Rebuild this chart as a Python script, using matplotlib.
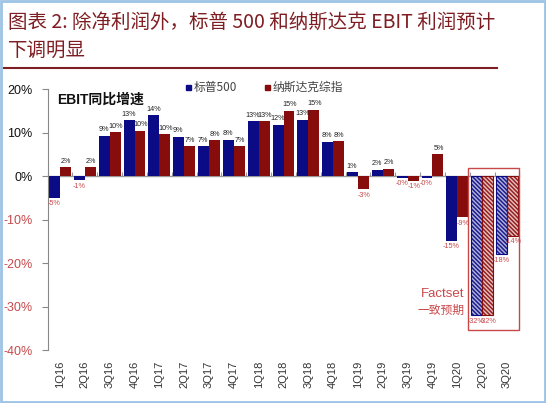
import numpy as np
import matplotlib.pyplot as plt
from matplotlib.patches import Rectangle

# EBIT 同比增速: 标普500 vs 纳斯达克综指
quarters = ['1Q16', '2Q16', '3Q16', '4Q16', '1Q17', '2Q17', '3Q17', '4Q17',
            '1Q18', '2Q18', '3Q18', '4Q18', '1Q19', '2Q19', '3Q19', '4Q19',
            '1Q20', '2Q20', '3Q20']
spx = [-5.0, -1.0, 9.3, 12.8, 14.0, 9.0, 6.8, 8.4, 12.6, 11.8, 13.0, 7.9,
       0.9, 1.5, -0.4, -0.4, -14.9, -32.0, -17.9]
ndq = [2.0, 2.0, 10.1, 10.4, 9.6, 6.8, 8.2, 6.8, 12.6, 15.0, 15.2, 8.0,
       -3.0, 1.6, -1.1, 5.0, -9.4, -32.0, -13.7]
n_forecast = 2  # 最后两个季度为 Factset 一致预期
yticks = [20, 10, 0, -10, -20, -30, -40]

BLUE = '#0b0b85'
RED = '#870c0c'
LRED = '#c8484a'
FONT = ['Liberation Sans', 'Noto Sans CJK SC', 'DejaVu Sans']
CJK = ['Noto Sans CJK SC', 'Liberation Sans', 'DejaVu Sans']
plt.rcParams['font.family'] = FONT
plt.rcParams['hatch.linewidth'] = 1.1

fig = plt.figure(figsize=(5.46, 4.03), dpi=100)
ax = fig.add_axes([0.0872, 0.1315, 0.8641, 0.6475])

x = np.arange(len(quarters))
w = 0.44
nf = len(quarters) - n_forecast

ax.bar(x[:nf] - w / 2, spx[:nf], w, color=BLUE, zorder=2)
ax.bar(x[:nf] + w / 2, ndq[:nf], w, color=RED, zorder=2)
# forecast bars: hatched
HATCH = '\\' * 8
ax.bar(x[nf:] - w / 2, spx[nf:], w, facecolor='#b4b4da', edgecolor='#1c1c8e',
       hatch=HATCH, linewidth=0, zorder=2)
ax.bar(x[nf:] - w / 2, spx[nf:], w, fill=False, edgecolor=BLUE, linewidth=0.8, zorder=3)
ax.bar(x[nf:] + w / 2, ndq[nf:], w, facecolor='#e6c2c2', edgecolor='#952020',
       hatch=HATCH, linewidth=0, zorder=2)
ax.bar(x[nf:] + w / 2, ndq[nf:], w, fill=False, edgecolor=RED, linewidth=0.8, zorder=3)

# value labels
for xs, vals, dx in ((x - w / 2, spx, -0.02), (x + w / 2, ndq, 0.02)):
    for xi, v in zip(xs, vals):
        txt = '%d%%' % round(v)
        if v < 0 and round(v) == 0:
            txt = '-0%'
        if v >= 0:
            ax.text(xi + dx, v + 0.6, txt, ha='center', va='bottom', fontsize=5.2,
                    color='#222222', zorder=4)
        else:
            ax.text(xi + dx, v - 0.6, txt, ha='center', va='top', fontsize=5.2,
                    color=LRED, zorder=4)

ax.set_xlim(-0.5, len(quarters) - 0.5)
ax.set_ylim(-40, 20)
ax.axhline(0, color='#999999', lw=0.8, zorder=1)

ax.set_yticks(yticks)
ax.set_yticklabels(['%d%%' % t for t in yticks], fontsize=9)
for lab, t in zip(ax.get_yticklabels(), yticks):
    lab.set_color(LRED if t < 0 else '#111111')
ax.tick_params(axis='y', length=4, width=0.8, color='#888888', pad=7)

ax.set_xticks(x)
ax.set_xticklabels(quarters, rotation=90, fontsize=8, color='#333333')
ax.tick_params(axis='x', length=0, pad=8)

for s in ('top', 'right', 'bottom'):
    ax.spines[s].set_visible(False)
ax.spines['left'].set_color('#888888')
ax.spines['left'].set_linewidth(0.8)

# category boundary ticks on zero line
sec = ax.secondary_xaxis(40 / 60)
sec.set_xticks(np.arange(len(quarters) + 1) - 0.5)
sec.set_xticklabels([])
sec.tick_params(axis='x', length=3, color='#999999', direction='out')
sec.spines['bottom'].set_visible(False)

# forecast box
ax.add_patch(Rectangle((nf - 0.59, -35.5), 2.09, 37.3, fill=False,
                       edgecolor=LRED, lw=1.0, zorder=5, clip_on=False))
ax.text(nf - 0.7, -27.2, 'Factset', ha='right', va='center', fontsize=9.5,
        color=LRED)
ax.text(nf - 0.7, -31.0, '一致预期', ha='right', va='center', fontsize=8.5,
        color=LRED, family=CJK)

ax.text(0.02, 0.96, 'EBIT同比增速', transform=ax.transAxes, fontsize=10,
        fontweight='bold', color='#111111', family=['Liberation Sans', 'Noto Sans CJK SC'],
        va='center')

# legend
ly = 1 - 87 / 403
for px, col, name in ((186, BLUE, '标普500'), (265, RED, '纳斯达克综指')):
    fig.add_artist(Rectangle((px / 546, ly - 2.5 / 403), 5 / 546, 5 / 403,
                             transform=fig.transFigure, color=col))
    fig.text((px + 8) / 546, ly, name, fontsize=8.5, color='#444444',
             va='center', family=CJK)

# title
TITLE = '#7e1e22'
fig.text(8 / 546, 1 - 22 / 403, '图表 2: 除净利润外，标普 500 和纳斯达克 EBIT 利润预计',
         fontsize=14, color=TITLE, va='center', family=CJK, style='italic')
fig.text(8 / 546, 1 - 50 / 403, '下调明显', fontsize=14, color=TITLE, va='center',
         family=CJK, style='italic')
fig.add_artist(plt.Line2D([4 / 546, 497 / 546], [1 - 68 / 403] * 2, color=TITLE, lw=1.5))

# outer frame
fig.add_artist(Rectangle((0.002, 0.003), 0.996, 0.994, transform=fig.transFigure,
                         fill=False, edgecolor='#9dc3e6', lw=2))

fig.savefig('out.png', dpi=100)
